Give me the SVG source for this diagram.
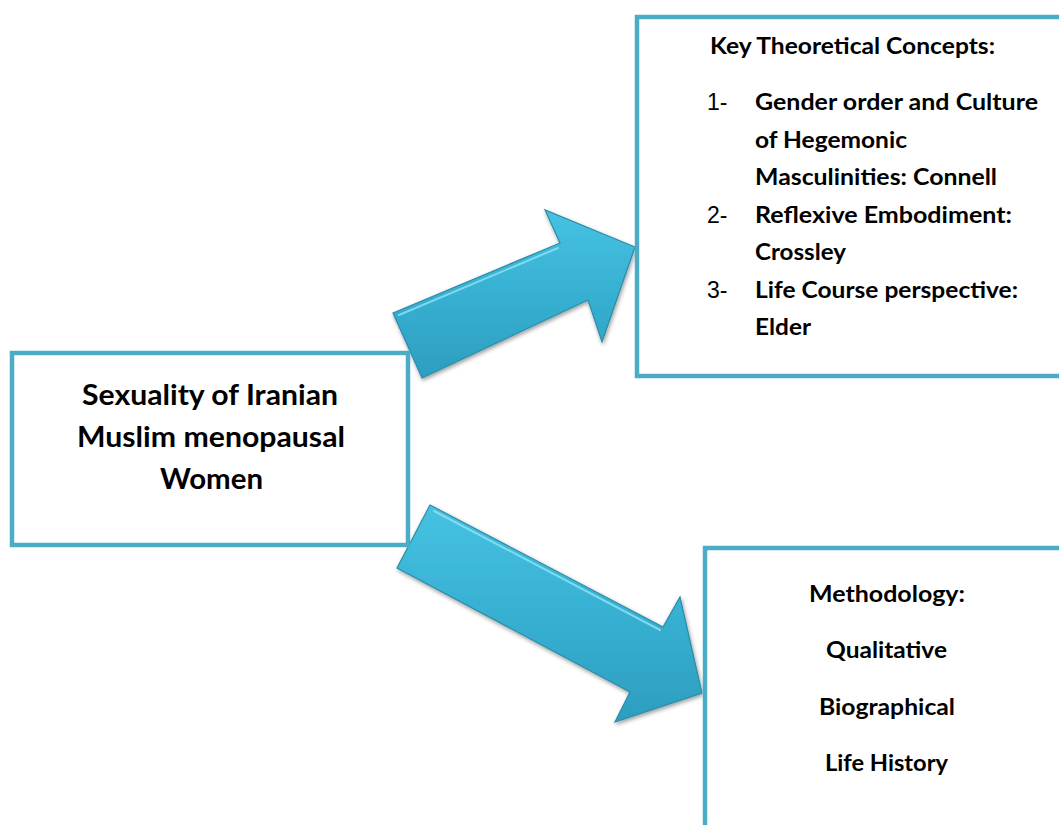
<svg xmlns="http://www.w3.org/2000/svg" width="1059" height="825" viewBox="0 0 1059 825">
<style>
.box{fill:#fff;stroke:#4BACC6;stroke-width:4.5}
.t{font-family:Lato,"Open Sans",sans-serif;font-weight:bold;fill:#000}
.n{font-family:"Liberation Sans",Arial,sans-serif;font-size:23px;fill:#000}
.arr{fill:url(#ag);stroke:#2B8CA8;stroke-width:1.2;filter:url(#sh)}
.hl{fill:none;stroke:#8FE3F5;stroke-width:2;stroke-linecap:round;opacity:0.8}
</style>
<defs>
<linearGradient id="ag" x1="0" y1="0" x2="0" y2="1">
<stop offset="0" stop-color="#46C2E2"/>
<stop offset="0.5" stop-color="#37B0D2"/>
<stop offset="1" stop-color="#2D9EBF"/>
</linearGradient>
<filter id="sh" x="-10%" y="-10%" width="130%" height="130%">
<feGaussianBlur in="SourceAlpha" stdDeviation="2"/>
<feOffset dx="1" dy="2" result="b"/>
<feComponentTransfer><feFuncA type="linear" slope="0.4"/></feComponentTransfer>
<feMerge><feMergeNode/><feMergeNode in="SourceGraphic"/></feMerge>
</filter>
</defs>
<g id="connectors">
<polygon class="arr" points="393,313 560,243 545,210 635,247 602,342 588,300 422,378"/>
<polyline class="hl" points="399,315 558,248"/>
<polygon class="arr" points="430,505 663,627 680,597 702,693 615,722 630,692 397,568"/>
<polyline class="hl" points="434,511 660,630"/>
</g>
<g id="node-main">
<rect class="box" x="12" y="353" width="396" height="192"/>
<text class="t" font-size="28" x="82" y="405" textLength="256" lengthAdjust="spacingAndGlyphs">Sexuality of Iranian</text>
<text class="t" font-size="28" x="77" y="447" textLength="268" lengthAdjust="spacingAndGlyphs">Muslim menopausal</text>
<text class="t" font-size="28" x="160" y="489" textLength="103" lengthAdjust="spacingAndGlyphs">Women</text>
</g>
<g id="node-theory">
<rect class="box" x="637" y="17" width="440" height="359"/>
<text class="t" font-size="22" x="710" y="54" textLength="285" lengthAdjust="spacingAndGlyphs">Key Theoretical Concepts:</text>
<text class="n" x="707" y="110">1-</text>
<text class="t" font-size="22" x="755" y="110" textLength="283" lengthAdjust="spacingAndGlyphs">Gender order and Culture</text>
<text class="t" font-size="22" x="755" y="148" textLength="152" lengthAdjust="spacingAndGlyphs">of Hegemonic</text>
<text class="t" font-size="22" x="755" y="185" textLength="242" lengthAdjust="spacingAndGlyphs">Masculinities: Connell</text>
<text class="n" x="707" y="223">2-</text>
<text class="t" font-size="22" x="755" y="223" textLength="257" lengthAdjust="spacingAndGlyphs">Reflexive Embodiment:</text>
<text class="t" font-size="22" x="755" y="260" textLength="91" lengthAdjust="spacingAndGlyphs">Crossley</text>
<text class="n" x="707" y="298">3-</text>
<text class="t" font-size="22" x="755" y="298" textLength="263" lengthAdjust="spacingAndGlyphs">Life Course perspective:</text>
<text class="t" font-size="22" x="755" y="335" textLength="56" lengthAdjust="spacingAndGlyphs">Elder</text>
</g>
<g id="node-method">
<rect class="box" x="705" y="548" width="400" height="320"/>
<text class="t" font-size="22" x="809" y="602" textLength="156" lengthAdjust="spacingAndGlyphs">Methodology:</text>
<text class="t" font-size="22" x="826" y="658" textLength="121" lengthAdjust="spacingAndGlyphs">Qualitative</text>
<text class="t" font-size="22" x="819" y="715" textLength="136" lengthAdjust="spacingAndGlyphs">Biographical</text>
<text class="t" font-size="22" x="825" y="771" textLength="123" lengthAdjust="spacingAndGlyphs">Life History</text>
</g>
</svg>
